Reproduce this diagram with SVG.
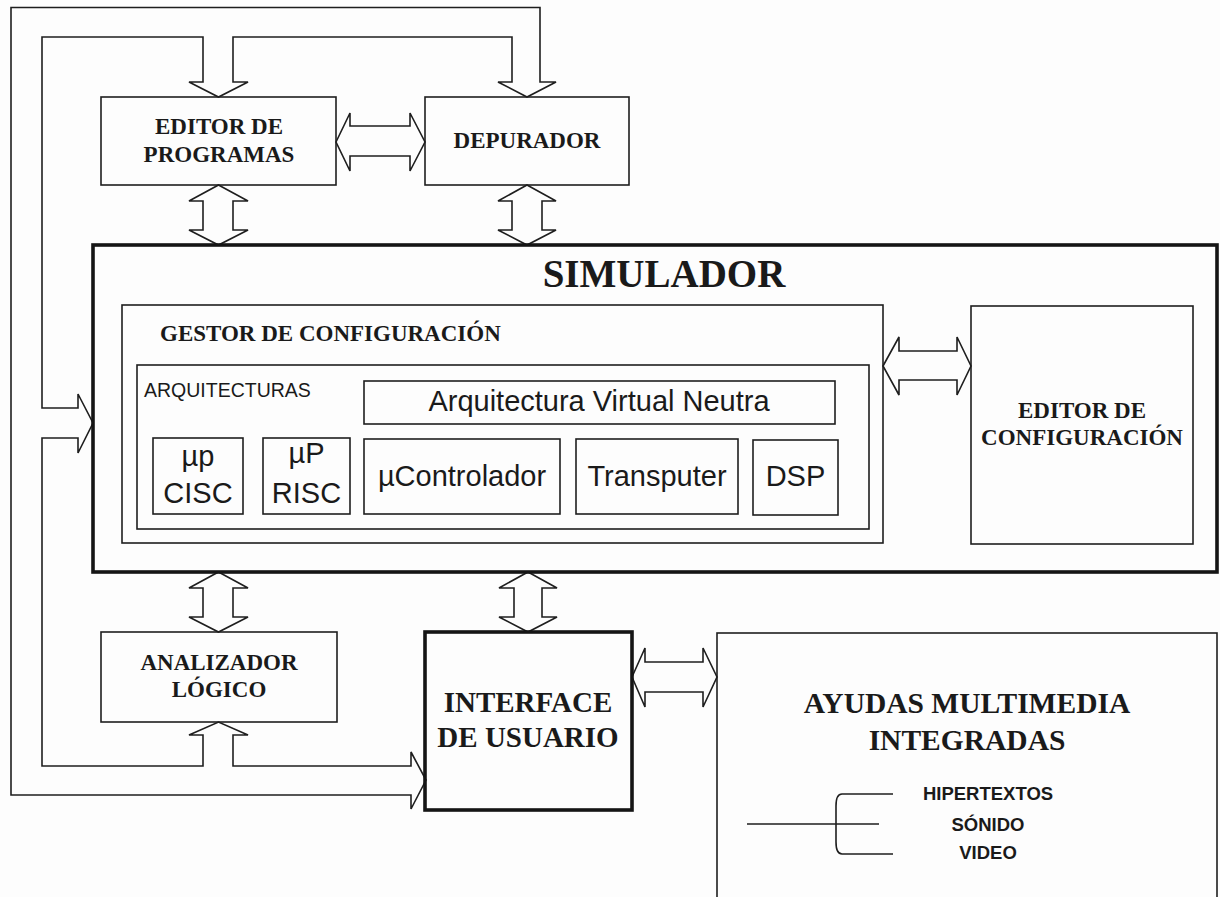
<svg xmlns="http://www.w3.org/2000/svg" width="1220" height="897" viewBox="0 0 1220 897">
<style>
.bg{fill:#fdfdfd}
.box{fill:none;stroke:#1e1e1e;stroke-width:1.6}
.thick{fill:none;stroke:#151515;stroke-width:3.6}
.conn{fill:none;stroke:#1e1e1e;stroke-width:1.6;stroke-linejoin:miter}
.serif{font-family:"Liberation Serif","Times New Roman",serif;font-weight:bold;fill:#1a1a1a;text-anchor:middle}
.sans{font-family:"Liberation Sans",Arial,sans-serif;fill:#1a1a1a;text-anchor:middle}
</style>
<rect class="bg" x="0" y="0" width="1220" height="897"/>

<g id="connectors">
  <path class="conn" d="M203,82 L203,37 L42,37 L42,408 L78,408 L78,394 L93,423 L78,453 L78,438 L42,438 L42,766 L203,766 L203,735 L189,735 L218.5,722 L248,735 L233,735 L233,766 L411,766 L411,752 L426,780 L411,809 L411,795 L11,795 L11,7.5 L540,7.5 L540,82 L556,82 L527,97 L498,82 L512,82 L512,37 L233,37 L233,82 L248,82 L218.5,97 L189,82 Z"/>
  <path class="conn" d="M336,142 L350,113 L350,126 L410,126 L410,113 L425,142 L410,171 L410,156 L350,156 L350,171 Z"/>
  <path class="conn" d="M218.5,185 L248,201 L233,201 L233,230 L248,230 L218.5,245 L189,230 L203,230 L203,201 L189,201 Z"/>
  <path class="conn" d="M527,185 L556,201 L542,201 L542,230 L556,230 L527,245 L498,230 L512,230 L512,201 L498,201 Z"/>
  <path class="conn" d="M218.5,572 L248,588 L233,588 L233,617 L248,617 L218.5,632 L189,617 L203,617 L203,588 L189,588 Z"/>
  <path class="conn" d="M528,572 L557,588 L542,588 L542,617 L557,617 L528,632 L499,617 L514,617 L514,588 L499,588 Z"/>
  <path class="conn" d="M883,366 L899,337 L899,351 L957,351 L957,337 L971,366 L957,395 L957,380 L899,380 L899,395 Z"/>
  <path class="conn" d="M632,677 L645,648 L645,662 L703,662 L703,648 L717,677 L703,707 L703,692 L645,692 L645,707 Z"/>
</g>

<g id="editor-programas">
  <rect class="box" x="101" y="97" width="235" height="88"/>
  <text class="serif" x="219" y="134" font-size="23">EDITOR DE</text>
  <text class="serif" x="219" y="162" font-size="23">PROGRAMAS</text>
</g>

<g id="depurador">
  <rect class="box" x="425" y="97" width="204" height="88"/>
  <text class="serif" x="527" y="148" font-size="23">DEPURADOR</text>
</g>

<g id="simulador">
  <rect class="thick" x="93" y="245" width="1124" height="327"/>
  <text class="serif" x="664" y="287" font-size="39">SIMULADOR</text>
</g>

<g id="gestor-configuracion">
  <rect class="box" x="122" y="305" width="761" height="238"/>
  <text class="serif" x="160" y="341" font-size="23" style="text-anchor:start">GESTOR DE CONFIGURACIÓN</text>
</g>

<g id="arquitecturas">
  <rect class="box" x="137" y="365" width="732" height="164"/>
  <text class="sans" x="144" y="397" font-size="19.5" style="text-anchor:start">ARQUITECTURAS</text>
</g>

<g id="arq-virtual">
  <rect class="box" x="364" y="381" width="471" height="43"/>
  <text class="sans" x="599" y="411" font-size="29">Arquitectura Virtual Neutra</text>
</g>

<g id="up-cisc">
  <rect class="box" x="153" y="438" width="90" height="76"/>
  <text class="sans" x="198" y="466" font-size="29">µp</text>
  <text class="sans" x="198" y="503" font-size="29">CISC</text>
</g>

<g id="up-risc">
  <rect class="box" x="263" y="438" width="87" height="76"/>
  <text class="sans" x="306.5" y="463" font-size="29">µP</text>
  <text class="sans" x="306.5" y="503" font-size="29">RISC</text>
</g>

<g id="ucontrolador">
  <rect class="box" x="364" y="439" width="196" height="75"/>
  <text class="sans" x="462" y="486" font-size="29">µControlador</text>
</g>

<g id="transputer">
  <rect class="box" x="576" y="439" width="162" height="75"/>
  <text class="sans" x="657" y="486" font-size="29">Transputer</text>
</g>

<g id="dsp">
  <rect class="box" x="753" y="440" width="85" height="75"/>
  <text class="sans" x="795.5" y="486" font-size="29">DSP</text>
</g>

<g id="editor-configuracion">
  <rect class="box" x="971" y="306" width="222" height="238"/>
  <text class="serif" x="1082" y="418" font-size="23">EDITOR DE</text>
  <text class="serif" x="1082" y="445" font-size="23">CONFIGURACIÓN</text>
</g>

<g id="analizador-logico">
  <rect class="box" x="101" y="632" width="236" height="90"/>
  <text class="serif" x="219" y="670" font-size="23">ANALIZADOR</text>
  <text class="serif" x="219" y="697" font-size="23">LÓGICO</text>
</g>

<g id="interface-usuario">
  <rect class="thick" x="425" y="632" width="207" height="178"/>
  <text class="serif" x="528" y="712" font-size="29">INTERFACE</text>
  <text class="serif" x="528" y="747" font-size="29">DE USUARIO</text>
</g>

<g id="ayudas-multimedia">
  <rect class="box" x="717" y="633" width="500" height="270"/>
  <text class="serif" x="967" y="713" font-size="29.5">AYUDAS MULTIMEDIA</text>
  <text class="serif" x="967" y="750" font-size="29.5">INTEGRADAS</text>
  <path class="conn" d="M747,824 L879,824 M893,794 L842,794 Q836,794 836,806 L836,842 Q836,854 842,854 L893,854"/>
  <text class="sans" x="988" y="800" font-size="18.5" font-weight="bold">HIPERTEXTOS</text>
  <text class="sans" x="988" y="831" font-size="18.5" font-weight="bold">SÓNIDO</text>
  <text class="sans" x="988" y="859" font-size="18.5" font-weight="bold">VIDEO</text>
</g>
</svg>
